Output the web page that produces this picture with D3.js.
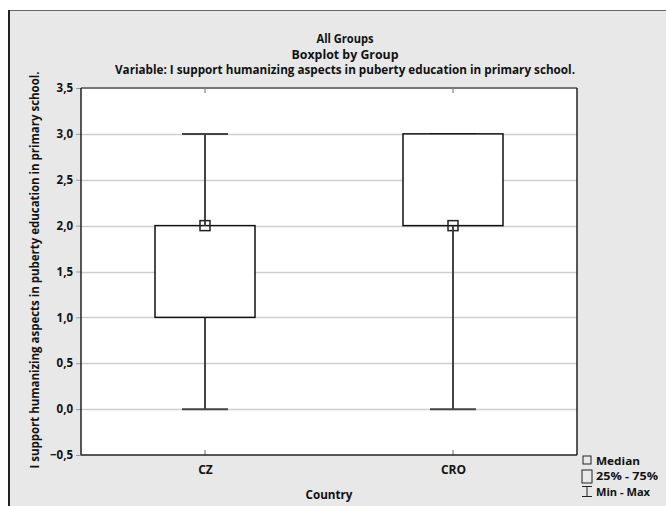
<!DOCTYPE html>
<html><head><meta charset="utf-8">
<script src="https://cdn.jsdelivr.net/npm/d3@7"></script>
<style>body{margin:0;background:#fff}svg{display:block}text{font-family:"Open Sans",sans-serif;font-weight:700;fill:#111}</style>
</head><body><svg id="c" width="666" height="506"></svg>
<script>
const categories = ["CZ", "CRO"];
const minVals = [0, 0];
const q1Vals = [1, 2];
const medianVals = [2, 2];
const q3Vals = [2, 3];
const maxVals = [3, 3];
const yTicks = [-0.5, 0, 0.5, 1, 1.5, 2, 2.5, 3, 3.5];
const titleLines = ["All Groups", "Boxplot by Group", "Variable: I support humanizing aspects in puberty education in primary school."];
const yLabel = "I support humanizing aspects in puberty education in primary school.";
const xLabel = "Country";
const legendItems = ["Median", "25% - 75%", "Min - Max"];

const svg = d3.select("#c");
const L = 81, R = 577, T = 88, B = 455;
const FF = "Open Sans";

// frame
svg.append("rect").attr("x", 9).attr("y", 10).attr("width", 680).attr("height", 520).attr("fill", "#e8e8e8");
svg.append("line").attr("x1", 9).attr("x2", 680).attr("y1", 10.5).attr("y2", 10.5).attr("stroke", "#666").attr("stroke-width", 1);
svg.append("line").attr("x1", 9).attr("x2", 9).attr("y1", 10).attr("y2", 506).attr("stroke", "#222").attr("stroke-width", 2);

const x = d3.scalePoint().domain(categories).range([L, R]).padding(0.5);
const y = d3.scaleLinear().domain([-0.5, 3.5]).range([B, T]);

svg.append("rect").attr("x", L).attr("y", T).attr("width", R - L).attr("height", B - T).attr("fill", "#fff");

// gridlines
svg.append("g").selectAll("line").data(yTicks.filter(t => t > -0.5 && t < 3.5)).join("line")
  .attr("x1", L).attr("x2", R).attr("y1", d => Math.round(y(d)) + 0.5).attr("y2", d => Math.round(y(d)) + 0.5)
  .attr("stroke", "#cfcfcf").attr("stroke-width", 1.5);

// y axis
const yAxis = svg.append("g").attr("transform", `translate(${L},0)`)
  .call(d3.axisLeft(y).tickValues(yTicks).tickSize(5).tickPadding(3).tickFormat(d => d3.format(".1f")(d).replace(".", ",")));
yAxis.select(".domain").remove();
yAxis.selectAll(".tick line").attr("stroke", "#999");
yAxis.selectAll("text").style("font-size", "11.5px").style("font-family", FF).style("font-weight", 700).style("fill", "#111");

// x axis
const xAxis = svg.append("g").attr("transform", `translate(0,${B})`)
  .call(d3.axisBottom(x).tickSize(0).tickPadding(10));
xAxis.select(".domain").remove();
xAxis.selectAll("text").style("font-size", "12px").style("font-family", FF).style("font-weight", 700).style("fill", "#111");
categories.forEach(c => {
  svg.append("line").attr("x1", x(c)).attr("x2", x(c)).attr("y1", B).attr("y2", B - 5).attr("stroke", "#666");
  svg.append("line").attr("x1", x(c)).attr("x2", x(c)).attr("y1", T).attr("y2", T + 5).attr("stroke", "#666");
});

const boxW = 100, capW = 46, medS = 10;
const data = categories.map((c, i) => ({c, min: minVals[i], q1: q1Vals[i], med: medianVals[i], q3: q3Vals[i], max: maxVals[i]}));
const g = svg.append("g");
data.forEach(d => {
  const cx = x(d.c);
  g.append("line").attr("x1", cx).attr("x2", cx).attr("y1", y(d.q1)).attr("y2", y(d.min)).attr("stroke", "#444").attr("stroke-width", 2);
  g.append("line").attr("x1", cx).attr("x2", cx).attr("y1", y(d.q3)).attr("y2", y(d.max)).attr("stroke", "#444").attr("stroke-width", 2);
  g.append("line").attr("x1", cx - capW / 2).attr("x2", cx + capW / 2).attr("y1", y(d.min)).attr("y2", y(d.min)).attr("stroke", "#444").attr("stroke-width", 2);
  g.append("line").attr("x1", cx - capW / 2).attr("x2", cx + capW / 2).attr("y1", y(d.max)).attr("y2", y(d.max)).attr("stroke", "#444").attr("stroke-width", 2);
  g.append("rect").attr("x", cx - boxW / 2).attr("y", y(d.q3)).attr("width", boxW).attr("height", y(d.q1) - y(d.q3))
    .attr("fill", "#fff").attr("stroke", "#111").attr("stroke-width", 1.5);
  g.append("rect").attr("x", cx - medS / 2).attr("y", y(d.med) - medS / 2).attr("width", medS).attr("height", medS)
    .attr("fill", "none").attr("stroke", "#222").attr("stroke-width", 1.5);
});
data.forEach(d => {
  const cx = x(d.c);
  if (d.med === d.q1) g.append("line").attr("x1", cx).attr("x2", cx).attr("y1", y(d.med)).attr("y2", y(d.med) + medS / 2).attr("stroke", "#444").attr("stroke-width", 2);
  if (d.med === d.q3) g.append("line").attr("x1", cx).attr("x2", cx).attr("y1", y(d.med)).attr("y2", y(d.med) - medS / 2).attr("stroke", "#444").attr("stroke-width", 2);
});

// plot border
svg.append("line").attr("x1", L).attr("x2", R).attr("y1", T).attr("y2", T).attr("stroke", "#777").attr("stroke-width", 2);
svg.append("line").attr("x1", L).attr("x2", L).attr("y1", T).attr("y2", B).attr("stroke", "#222").attr("stroke-width", 1.5);
svg.append("line").attr("x1", R).attr("x2", R).attr("y1", T).attr("y2", B).attr("stroke", "#222").attr("stroke-width", 1.5);
svg.append("line").attr("x1", L).attr("x2", R).attr("y1", B).attr("y2", B).attr("stroke", "#222").attr("stroke-width", 1.5);

// titles
titleLines.forEach((t, i) => {
  svg.append("text").attr("x", 345).attr("y", 43 + i * 15.5).attr("text-anchor", "middle").attr("font-size", 12).text(t)
    .attr("textLength", i === 0 ? 57 : i === 1 ? 107 : 460).attr("lengthAdjust", "spacingAndGlyphs");
});

// axis labels
svg.append("text").attr("transform", "translate(39,270) rotate(-90)").attr("text-anchor", "middle").attr("font-size", 12.5)
  .attr("textLength", 397).attr("lengthAdjust", "spacingAndGlyphs").text(yLabel);
svg.append("text").attr("x", 329).attr("y", 499).attr("text-anchor", "middle").attr("font-size", 12)
  .attr("textLength", 47).attr("lengthAdjust", "spacingAndGlyphs").text(xLabel);

// legend
const lg = svg.append("g");
const lx = 587;
lg.append("rect").attr("x", lx - 4).attr("y", 456).attr("width", 8).attr("height", 8).attr("fill", "none").attr("stroke", "#222").attr("stroke-width", 1);
lg.append("rect").attr("x", lx - 5).attr("y", 470).attr("width", 10).attr("height", 13).attr("fill", "none").attr("stroke", "#222").attr("stroke-width", 1);
lg.append("line").attr("x1", lx).attr("x2", lx).attr("y1", 486).attr("y2", 497).attr("stroke", "#222");
lg.append("line").attr("x1", lx - 5).attr("x2", lx + 5).attr("y1", 486.5).attr("y2", 486.5).attr("stroke", "#222");
lg.append("line").attr("x1", lx - 5).attr("x2", lx + 5).attr("y1", 496.5).attr("y2", 496.5).attr("stroke", "#222");
const legendLen = [44, 62, 54];
legendItems.forEach((t, i) => {
  lg.append("text").attr("x", 596).attr("y", 464.5 + i * 15.5).attr("font-size", 11).attr("textLength", legendLen[i])
    .attr("lengthAdjust", "spacingAndGlyphs").text(t);
});
</script></body></html>
